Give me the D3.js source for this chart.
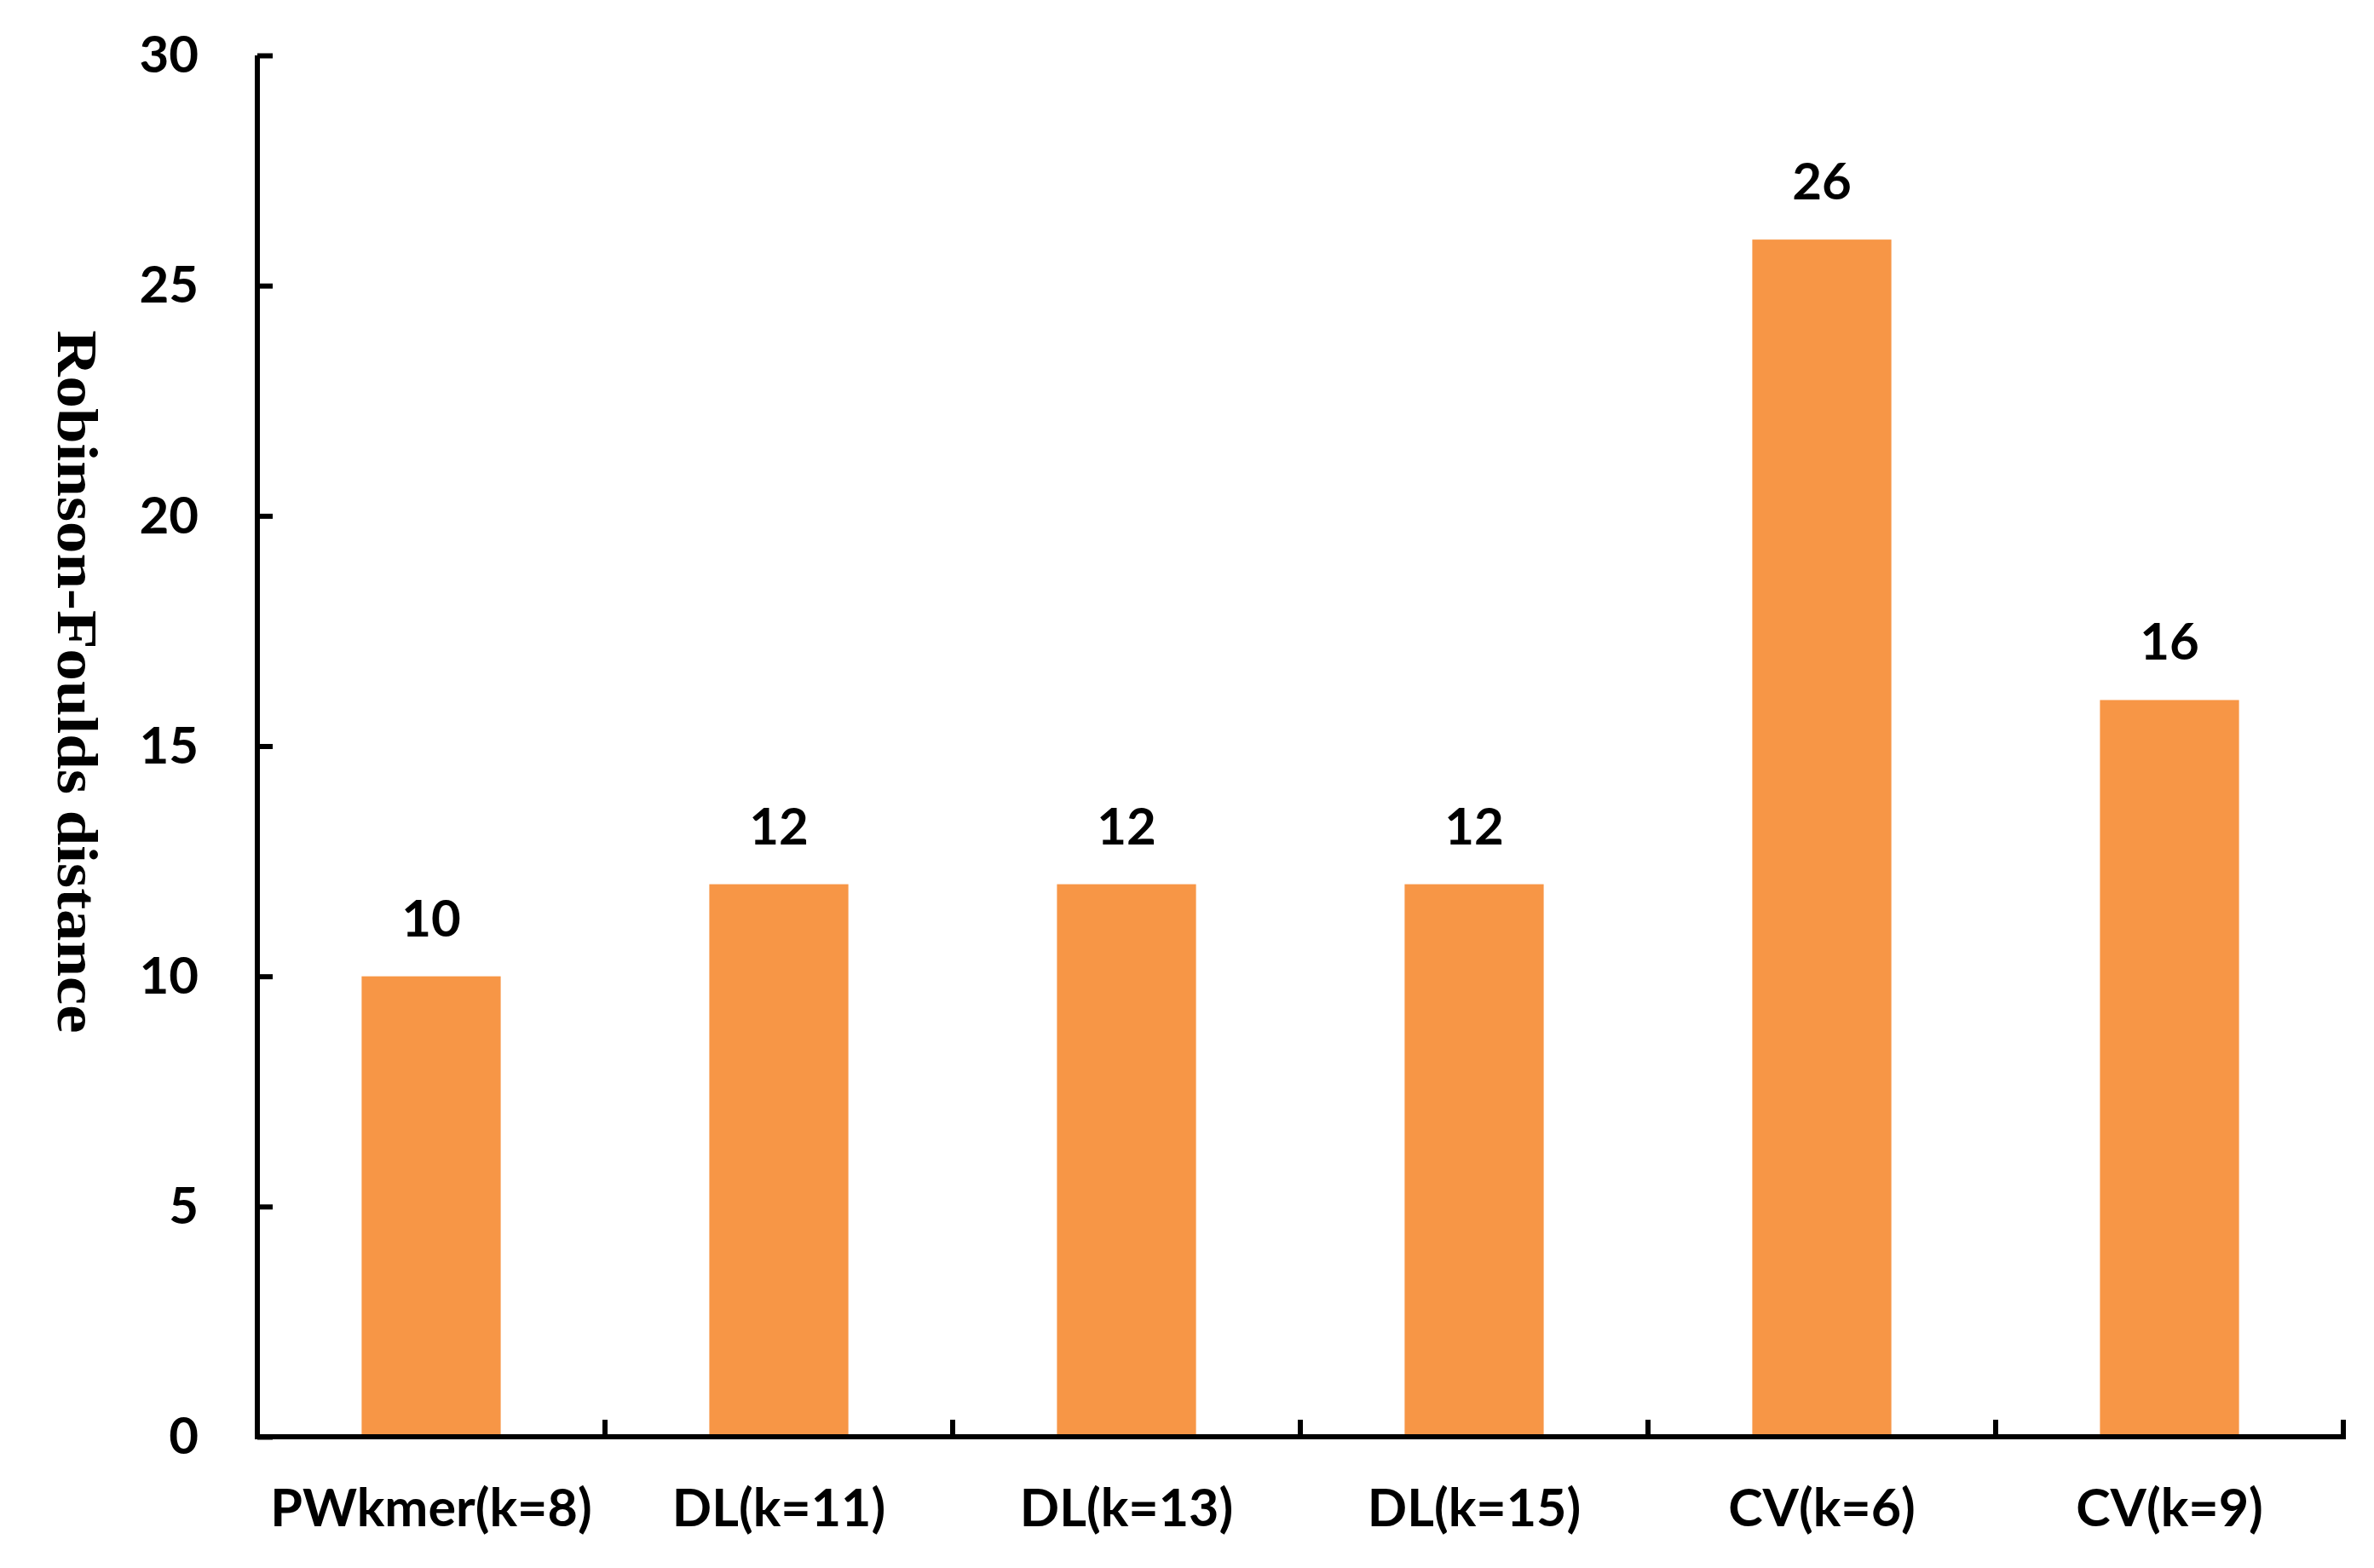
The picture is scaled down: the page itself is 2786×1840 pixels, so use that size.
<!DOCTYPE html>
<html>
<head>
<meta charset="utf-8">
<script src="https://cdn.jsdelivr.net/npm/d3@7"></script>
<style>
  html, body { margin: 0; padding: 0; background: #fff; }
  svg { display: block; }
</style>
</head>
<body>
<svg id="chart" width="2786" height="1840"></svg>
<script>
const categories = ["PWkmer(k=8)", "DL(k=11)", "DL(k=13)", "DL(k=15)", "CV(k=6)", "CV(k=9)"];
const values = [10, 12, 12, 12, 26, 16];
const yTicks = [0, 5, 10, 15, 20, 25, 30];
const yTitle = "Robinson-Foulds distance";

(function () {
const svg = d3.select("#chart");
const mLeft = 302, mRight = 2750, mTop = 65, mBottom = 1686;
const labelFont = "Lato, 'Open Sans', sans-serif";

const x = d3.scaleBand().domain(categories).range([mLeft, mRight]).paddingInner(0.6).paddingOuter(0.3);
const y = d3.scaleLinear().domain([0, 30]).range([mBottom, mTop]);

// bars
svg.append("g").selectAll("rect").data(values).join("rect")
  .attr("x", (d, i) => x(categories[i]))
  .attr("y", d => y(d))
  .attr("width", x.bandwidth())
  .attr("height", d => y(0) - y(d))
  .attr("fill", "#F79646");

// value labels
svg.append("g").selectAll("text").data(values).join("text")
  .attr("x", (d, i) => x(categories[i]) + x.bandwidth() / 2)
  .attr("y", d => y(d) - 47)
  .attr("text-anchor", "middle")
  .attr("font-family", labelFont)
  .attr("font-weight", "bold")
  .attr("font-size", 60)
  .attr("fill", "#000")
  .text(d => d);

// y axis
const yAxis = d3.axisLeft(y).tickValues(yTicks).tickSizeInner(-18).tickSizeOuter(0).tickPadding(69);
const gy = svg.append("g").attr("transform", `translate(${mLeft},0)`).call(yAxis);
gy.select(".domain").attr("stroke", "#000").attr("stroke-width", 6)
  .attr("d", `M0,${y(30)}V${y(0)}`);
gy.selectAll(".tick line").attr("stroke", "#000").attr("stroke-width", 6);
gy.selectAll(".tick text")
  .attr("font-family", labelFont).attr("font-weight", "bold").attr("font-size", 60)
  .attr("fill", "#000").attr("dy", "0.33em");

// x axis
const boundaries = categories.map(c => x(c) + x.bandwidth() + x.step() * x.paddingInner() / 2);
const gx = svg.append("g");
gx.append("line").attr("x1", mLeft - 3).attr("x2", mRight + 3).attr("y1", mBottom).attr("y2", mBottom)
  .attr("stroke", "#000").attr("stroke-width", 6);
gx.selectAll("line.tk").data(boundaries).join("line").attr("class", "tk")
  .attr("x1", d => d).attr("x2", d => d)
  .attr("y1", mBottom).attr("y2", mBottom - 20)
  .attr("stroke", "#000").attr("stroke-width", 6);
gx.selectAll("text").data(categories).join("text")
  .attr("x", c => x(c) + x.bandwidth() / 2)
  .attr("y", 1791)
  .attr("text-anchor", "middle")
  .attr("font-family", labelFont).attr("font-weight", "bold").attr("font-size", 61)
  .attr("fill", "#000")
  .text(c => c);

// y title
svg.append("text")
  .attr("transform", `translate(91,800) rotate(90)`)
  .attr("text-anchor", "middle")
  .attr("dominant-baseline", "central")
  .attr("font-family", "'Liberation Serif', 'Times New Roman', serif")
  .attr("font-weight", "bold")
  .attr("font-size", 68)
  .attr("textLength", 825)
  .attr("lengthAdjust", "spacingAndGlyphs")
  .attr("fill", "#000")
  .text(yTitle);
})();
</script>
</body>
</html>
